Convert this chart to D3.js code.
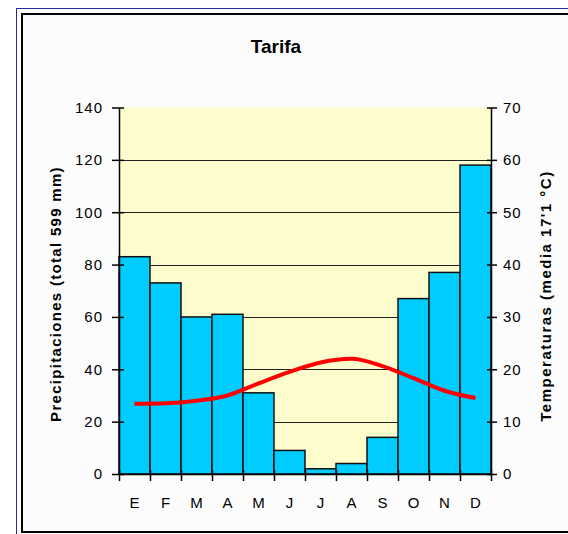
<!DOCTYPE html>
<html>
<head>
<meta charset="utf-8">
<script src="https://cdn.jsdelivr.net/npm/d3@7"></script>
<style>
  body { margin: 0; background: #fff; }
  svg { display: block; font-family: "Liberation Sans", Arial, sans-serif; }
</style>
</head>
<body>
<script>
// data
var months = ["E", "F", "M", "A", "M", "J", "J", "A", "S", "O", "N", "D"];
var precip = [83, 73, 60, 61, 31, 9, 2, 4, 14, 67, 77, 118];
var temps = [13.4, 13.5, 14.0, 15.0, 17.3, 19.5, 21.3, 22.0, 20.6, 18.3, 15.9, 14.5];
var precipTicks = [0, 20, 40, 60, 80, 100, 120, 140];
var tempTicks = [0, 10, 20, 30, 40, 50, 60, 70];

var width = 568, height = 534;
var plotLeft = 119, plotRight = 491, plotTop = 107.5, plotBottom = 474;

var svg = d3.select("body").append("svg")
    .attr("width", width).attr("height", height);

// frame
svg.append("rect").attr("x", 22).attr("y", 14).attr("width", 560).attr("height", 518)
    .attr("fill", "#fbfcfb").attr("stroke", "#000").attr("stroke-width", 2);
svg.append("line").attr("x1", 16.5).attr("x2", 16.5).attr("y1", 8).attr("y2", height)
    .attr("stroke", "#2a2aa0").attr("stroke-width", 1);
svg.append("line").attr("x1", 16).attr("x2", width).attr("y1", 8.5).attr("y2", 8.5)
    .attr("stroke", "#2a2aa0").attr("stroke-width", 1);

var x = d3.scaleBand().domain(d3.range(12)).range([plotLeft, plotRight]).padding(0);
var xEdge = d3.scaleLinear().domain([0, 12]).range([plotLeft, plotRight]);
var yP = d3.scaleLinear().domain([0, 140]).range([plotBottom, plotTop]);
var yT = d3.scaleLinear().domain([0, 70]).range([plotBottom, plotTop]);

// plot background
svg.append("rect").attr("x", plotLeft).attr("y", plotTop)
    .attr("width", plotRight - plotLeft).attr("height", plotBottom - plotTop)
    .attr("fill", "#fcfccc");

// gridlines
svg.append("g").selectAll("line")
    .data(precipTicks.filter(function(d) { return d > 0 && d < 140; }))
    .enter().append("line")
    .attr("x1", plotLeft).attr("x2", plotRight)
    .attr("y1", function(d) { return Math.round(yP(d)) + 0.5; })
    .attr("y2", function(d) { return Math.round(yP(d)) + 0.5; })
    .attr("stroke", "#222").attr("stroke-width", 1.2);

// bars
svg.append("g").selectAll("rect")
    .data(precip)
    .enter().append("rect")
    .attr("x", function(d, i) { return x(i); })
    .attr("y", function(d) { return yP(d); })
    .attr("width", x.bandwidth())
    .attr("height", function(d) { return plotBottom - yP(d); })
    .attr("fill", "#00ccff")
    .attr("stroke", "#111").attr("stroke-width", 1.5);

// temperature line (smoothed, like excel)
var line = d3.line()
    .x(function(d, i) { return x(i) + x.bandwidth() / 2; })
    .y(function(d) { return yT(d); })
    .curve(d3.curveMonotoneX);

svg.append("path").datum(temps)
    .attr("d", line)
    .attr("fill", "none")
    .attr("stroke", "#ff0000")
    .attr("stroke-width", 4);

// axes
function styleAxis(g) {
  g.select(".domain").attr("stroke", "#000").attr("stroke-width", 1.5);
  g.selectAll(".tick line").attr("stroke", "#000").attr("stroke-width", 1.5);
  g.selectAll(".tick text").attr("fill", "#000")
      .style("font-size", "15px").style("letter-spacing", "1px");
}

var gl = svg.append("g").attr("transform", "translate(" + plotLeft + ",0)")
    .call(d3.axisLeft(yP).tickValues(precipTicks).tickSizeOuter(0).tickSizeInner(7).tickPadding(9));
gl.selectAll(".tick line").attr("x2", -7).attr("x1", 5);
styleAxis(gl);

var gr = svg.append("g").attr("transform", "translate(" + plotRight + ",0)")
    .call(d3.axisRight(yT).tickValues(tempTicks).tickSizeOuter(0).tickSizeInner(6).tickPadding(6));
gr.selectAll(".tick line").attr("x1", -4);
styleAxis(gr);

var gb = svg.append("g").attr("transform", "translate(0," + plotBottom + ")")
    .call(d3.axisBottom(xEdge).tickValues(d3.range(13)).tickFormat("").tickSizeOuter(0).tickSizeInner(7));
gb.selectAll(".tick line").attr("y1", -4);
styleAxis(gb);

var gm = svg.append("g").attr("transform", "translate(0," + plotBottom + ")")
    .call(d3.axisBottom(x).tickFormat(function(i) { return months[i]; }).tickSize(0).tickPadding(23));
gm.select(".domain").remove();
gm.selectAll(".tick text").attr("fill", "#000").style("font-size", "15px");

// titles
svg.append("text").attr("x", 276).attr("y", 53)
    .attr("text-anchor", "middle")
    .style("font-size", "19px").style("font-weight", "bold")
    .text("Tarifa");

svg.append("text")
    .attr("transform", "translate(61,294) rotate(-90)")
    .attr("text-anchor", "middle")
    .style("font-size", "15px").style("font-weight", "bold").style("letter-spacing", "1.3px")
    .text("Precipitaciones (total 599 mm)");

svg.append("text")
    .attr("transform", "translate(551,296) rotate(-90)")
    .attr("text-anchor", "middle")
    .style("font-size", "15px").style("font-weight", "bold").style("letter-spacing", "1.5px")
    .text("Temperaturas (media 17'1 °C)");
</script>
</body>
</html>
